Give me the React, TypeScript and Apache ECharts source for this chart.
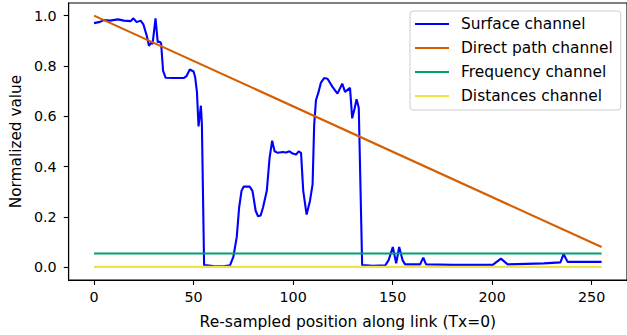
import React, { useEffect, useRef } from "react";
import * as echarts from "echarts";

const xTicks = [0, 50, 100, 150, 200, 250];
const yTicks = [0, 0.2, 0.4, 0.6, 0.8, 1.0];

const surfacePos = [
  0, 3, 5, 8, 12, 15, 18.4, 19.8, 21.4, 23.4, 24.8, 26.5, 27.6, 28.7, 29.4, 30.9, 32, 33, 33.7, 34.7,
  36, 40, 45, 46.5, 48.1, 50, 50.8, 51.7, 52.5, 53.7, 54.2, 55.3, 60, 65, 68.3, 70, 71.7, 72.9, 74.1,
  75.2, 78.2, 79.6, 81.2, 82.4, 83.7, 84.9, 86.8, 88.2, 89.5, 90.7, 92.3, 94.8, 96.5, 98.2, 99.8,
  101.5, 102.8, 104, 105.1, 106.8, 108.5, 109.8, 110.6, 111.5, 112.8, 114, 115.6, 117.3, 119.8,
  122.3, 124.7, 126.1, 128.6, 129.7, 130.9, 131.9, 133, 133.9, 134.7, 140, 146.3, 148, 150.1, 151.8,
  153.3, 155, 156.3, 163.8, 165.4, 166.8, 180, 200.3, 204.4, 207.8, 226, 234.3, 235.9, 237.9, 255,
];
const surfaceVal = [
  0.97, 0.975, 0.982, 0.98, 0.985, 0.98, 0.978, 0.989, 0.974, 0.98, 0.965, 0.92, 0.88, 0.893, 0.887,
  0.989, 0.895, 0.896, 0.89, 0.78, 0.753, 0.752, 0.752, 0.76, 0.786, 0.778, 0.756, 0.697, 0.56, 0.642,
  0.566, 0.009, 0.005, 0.004, 0.008, 0.042, 0.12, 0.238, 0.304, 0.321, 0.321, 0.304, 0.225, 0.203,
  0.206, 0.238, 0.304, 0.435, 0.503, 0.461, 0.455, 0.458, 0.456, 0.461, 0.452, 0.448, 0.461, 0.455,
  0.304, 0.21, 0.265, 0.33, 0.566, 0.664, 0.697, 0.734, 0.752, 0.749, 0.717, 0.69, 0.73, 0.697, 0.713,
  0.592, 0.631, 0.668, 0.634, 0.305, 0.009, 0.006, 0.008, 0.029, 0.081, 0.016, 0.081, 0.029, 0.012,
  0.012, 0.039, 0.012, 0.01, 0.01, 0.035, 0.012, 0.016, 0.02, 0.053, 0.022, 0.022,
];

const directPos = [0, 255];
const directVal = [1.0, 0.081];
const frequencyPos = [0, 255];
const frequencyVal = [0.055, 0.055];
const distancesPos = [0, 255];
const distancesVal = [0.002, 0.002];

const seriesNames = ["Surface channel", "Direct path channel", "Frequency channel", "Distances channel"];
const seriesColors = ["#0000ff", "#d55e00", "#009e73", "#f0e442"];

const zip = (xs: number[], ys: number[]) => xs.map((x, i) => [x, ys[i]]);

export default function App() {
  const ref = useRef<HTMLDivElement>(null);
  useEffect(() => {
    if (!ref.current) return;
    const chart = echarts.init(ref.current, null, { renderer: "svg" });
    const font = "DejaVu Sans";
    const datasets = [
      zip(surfacePos, surfaceVal),
      zip(directPos, directVal),
      zip(frequencyPos, frequencyVal),
      zip(distancesPos, distancesVal),
    ];
    chart.setOption({
      animation: false,
      backgroundColor: "#ffffff",
      textStyle: { fontFamily: font },
      grid: {
        left: 67,
        top: 3,
        width: 563,
        height: 280,
        show: true,
        borderColor: "#000000",
        borderWidth: 1.1,
        backgroundColor: "transparent",
      },
      legend: {
        orient: "vertical",
        left: 410,
        top: 11,
        padding: [5, 8, 6, 5],
        icon: "rect",
        itemWidth: 34,
        itemHeight: 2,
        itemGap: 8,
        backgroundColor: "rgba(255,255,255,0.8)",
        borderColor: "#cccccc",
        borderWidth: 1,
        borderRadius: 3,
        textStyle: {
          fontFamily: font,
          fontSize: 15.4,
          lineHeight: 16,
          color: "#000000",
          padding: [0, 0, 0, 7],
        },
        data: seriesNames,
      },
      xAxis: {
        type: "value",
        min: -12.75,
        max: 267.75,
        name: "Re-sampled position along link (Tx=0)",
        nameLocation: "middle",
        nameGap: 34,
        nameTextStyle: { fontFamily: font, fontSize: 15.5, color: "#000000" },
        splitLine: { show: false },
        axisLine: { show: true, onZero: false, lineStyle: { color: "#000000", width: 1.1 } },
        axisTick: {
          show: true,
          length: 4.9,
          customValues: xTicks,
          lineStyle: { color: "#000000", width: 1.1 },
        },
        axisLabel: {
          customValues: xTicks,
          margin: 10,
          fontFamily: font,
          fontSize: 14.3,
          color: "#000000",
          formatter: (v: number) => String(v),
        },
      },
      yAxis: {
        type: "value",
        min: -0.05,
        max: 1.05,
        name: "Normalized value",
        nameLocation: "middle",
        nameGap: 43,
        nameTextStyle: { fontFamily: font, fontSize: 15.3, color: "#000000" },
        splitLine: { show: false },
        axisLine: { show: true, onZero: false, lineStyle: { color: "#000000", width: 1.1 } },
        axisTick: {
          show: true,
          length: 4.9,
          customValues: yTicks,
          lineStyle: { color: "#000000", width: 1.1 },
        },
        axisLabel: {
          customValues: yTicks,
          margin: 12,
          fontFamily: font,
          fontSize: 14.3,
          color: "#000000",
          formatter: (v: number) => v.toFixed(1),
        },
      },
      series: datasets.map((d, i) => ({
        type: "line",
        name: seriesNames[i],
        data: d,
        showSymbol: false,
        symbol: "none",
        color: seriesColors[i],
        lineStyle: { color: seriesColors[i], width: 2.1 },
        clip: true,
      })),
    });
    return () => chart.dispose();
  }, []);
  return (
    <div style={{ position: "fixed", left: 0, top: 0, width: 627, height: 335, overflow: "hidden", background: "#fff" }}>
      <div ref={ref} style={{ width: 627, height: 335 }} />
    </div>
  );
}
